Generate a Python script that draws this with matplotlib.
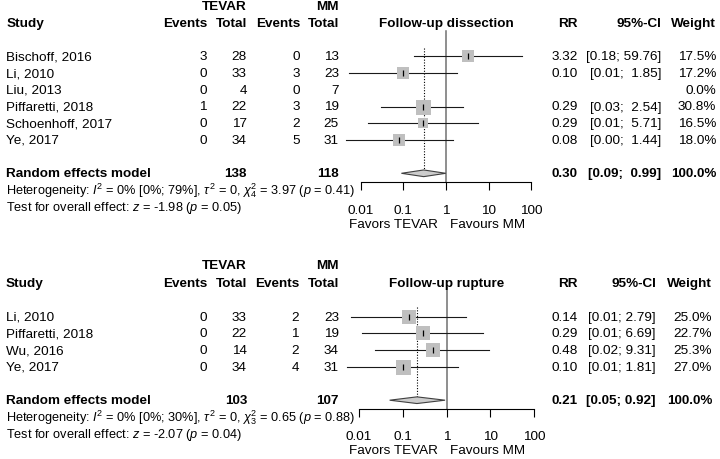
import matplotlib
matplotlib.use("Agg")
import matplotlib.pyplot as plt
import matplotlib.transforms as mtransforms
from matplotlib.patches import Polygon
import numpy as np

plt.rcParams['font.family'] = ['Liberation Sans', 'DejaVu Sans']
plt.rcParams['mathtext.fontset'] = 'custom'
plt.rcParams['mathtext.rm'] = 'Liberation Sans'
plt.rcParams['mathtext.it'] = 'Liberation Sans:italic'
plt.rcParams['mathtext.bf'] = 'Liberation Sans:bold'

# --- data: follow-up dissection ---
studies1 = ["Bischoff, 2016", "Li, 2010", "Liu, 2013", "Piffaretti, 2018",
            "Schoenhoff, 2017", "Ye, 2017"]
ev_tevar1 = [3, 0, 0, 1, 0, 0]
n_tevar1 = [28, 33, 4, 22, 17, 34]
ev_mm1 = [0, 3, 0, 3, 2, 5]
n_mm1 = [13, 23, 7, 19, 25, 31]
rr1 = [3.32, 0.10, np.nan, 0.29, 0.29, 0.08]
lo1 = [0.18, 0.0053, np.nan, 0.03, 0.0146, 0.0045]
hi1 = [59.76, 1.85, np.nan, 2.54, 5.71, 1.44]
w1 = [17.5, 17.2, 0.0, 30.8, 16.5, 18.0]
pooled1 = (0.30, 0.09, 0.99)
tot1 = (138, 118)
het1 = r"Heterogeneity: $I^2$ = 0% [0%; 79%], $\tau^2$ = 0, $\chi^2_4$ = 3.97 ($p$ = 0.41)"
test1 = r"Test for overall effect: $z$ = -1.98 ($p$ = 0.05)"

# --- data: follow-up rupture ---
studies2 = ["Li, 2010", "Piffaretti, 2018", "Wu, 2016", "Ye, 2017"]
ev_tevar2 = [0, 0, 0, 0]
n_tevar2 = [33, 22, 14, 34]
ev_mm2 = [2, 1, 2, 4]
n_mm2 = [23, 19, 34, 31]
rr2 = [0.14, 0.29, 0.48, 0.10]
lo2 = [0.0065, 0.0117, 0.023, 0.0053]
hi2 = [2.79, 6.69, 9.31, 1.81]
w2 = [25.0, 22.7, 25.3, 27.0]
pooled2 = (0.21, 0.05, 0.92)
tot2 = (103, 107)
het2 = r"Heterogeneity: $I^2$ = 0% [0%; 30%], $\tau^2$ = 0, $\chi^2_3$ = 0.65 ($p$ = 0.88)"
test2 = r"Test for overall effect: $z$ = -2.07 ($p$ = 0.04)"

ticks = [0.01, 0.1, 1, 10, 100]
ticklabels = ["0.01", "0.1", "1", "10", "100"]

W, H = 720, 460
FS = 9.7
FS_SMALL = 9.2
fig = plt.figure(figsize=(W / 100, H / 100), dpi=100)


def draw_panel(title, studies, ev_t, n_t, ev_m, n_m, rr, lo, hi, w, pooled, tots,
               het, test, row0, x0, x1, top_row, cols, head_rows, vline_top, dot_top):
    rowpx = 16.7
    k = len(studies)
    pool_row = k + 2
    bot_row = pool_row + 0.5
    ytop = row0 + top_row * rowpx
    ybot = row0 + bot_row * rowpx
    ax = fig.add_axes([x0 / W, 1 - ybot / H, (x1 - x0) / W, (ybot - ytop) / H])
    ax.set_xscale('log')
    ax.set_xlim(0.01, 100)
    ax.set_ylim(bot_row, top_row)
    ax.patch.set_visible(False)
    for s in ['top', 'left', 'right']:
        ax.spines[s].set_visible(False)
    ax.spines['bottom'].set_linewidth(0.8)
    ax.set_yticks([])
    ax.set_xticks(ticks)
    ax.set_xticklabels(ticklabels)
    ax.minorticks_off()
    ax.tick_params(axis='x', direction='out', length=5.8, width=0.8, pad=10,
                   labelsize=FS)

    rows = np.arange(1, k + 1)
    # reference line at 1 and pooled line
    ax.plot([1, 1], [vline_top, bot_row], color='#707070', lw=1.1, clip_on=False)
    ax.plot([pooled[0], pooled[0]], [dot_top, pool_row - 0.2], color='black',
            lw=0.8, ls=(0, (1, 1.5)), clip_on=False)

    wmax = max(w)
    for r, e, l, h, wt in zip(rows, rr, lo, hi, w):
        if np.isnan(e):
            continue
        ax.plot([l, h], [r, r], color='#1a1a1a', lw=0.8, clip_on=False, zorder=2)
        side = 15 * np.sqrt(wt / wmax) * 0.72
        ax.plot([e], [r], marker='s', ms=side, color='#bfbfbf', mew=0, zorder=3)
        ax.plot([e], [r], marker='|', ms=4, color='black', mew=0.9, zorder=4)

    dia = Polygon([(pooled[1], pool_row), (pooled[0], pool_row - 0.2),
                   (pooled[2], pool_row), (pooled[0], pool_row + 0.2)],
                  closed=True, facecolor='#cccccc', edgecolor='#404040', lw=0.8,
                  zorder=3, clip_on=False)
    ax.add_patch(dia)

    tr = mtransforms.blended_transform_factory(fig.transFigure, ax.transData)

    def txt(xpx, y, s, ha='right', weight='normal', size=FS):
        fig.text(xpx / W, y, s, transform=tr, ha=ha, va='center',
                 fontsize=size, fontweight=weight)

    # header
    tevar_row, study_row = head_rows
    txt(cols['study'], study_row, "Study", ha='left', weight='bold')
    txt(cols['n_t'], tevar_row, "TEVAR", weight='bold')
    txt(cols['n_m'], tevar_row, "MM", weight='bold')
    txt(cols['ev_t'], study_row, "Events", weight='bold')
    txt(cols['n_t'], study_row, "Total", weight='bold')
    txt(cols['ev_m'], study_row, "Events", weight='bold')
    txt(cols['n_m'], study_row, "Total", weight='bold')
    ax.text(1, study_row, title, ha='center', va='center', fontsize=FS,
            fontweight='bold')
    txt(cols['rr'], study_row, "RR", weight='bold')
    txt(cols['ci'], study_row, "95%-CI", weight='bold')
    txt(cols['w'], study_row, "Weight", weight='bold')

    wid = max(len(f"{v:.2f}") for v in list(hi) + [pooled[2]] if not np.isnan(v))
    for r, name, a, b, c, d, e, l, h, wt in zip(rows, studies, ev_t, n_t, ev_m, n_m,
                                                 rr, lo, hi, w):
        txt(cols['study'], r, name, ha='left')
        txt(cols['ev_t'], r, str(a))
        txt(cols['n_t'], r, str(b))
        txt(cols['ev_m'], r, str(c))
        txt(cols['n_m'], r, str(d))
        if not np.isnan(e):
            txt(cols['rr'], r, f"{e:.2f}")
            txt(cols['ci'], r, f"[{l:.2f}; {h:>{wid}.2f}]")
        txt(cols['w'], r, f"{wt:.1f}%")

    txt(cols['study'], pool_row, "Random effects model", ha='left', weight='bold')
    txt(cols['n_t'], pool_row, str(tots[0]), weight='bold')
    txt(cols['n_m'], pool_row, str(tots[1]), weight='bold')
    txt(cols['rr'], pool_row, f"{pooled[0]:.2f}", weight='bold')
    txt(cols['ci'], pool_row, f"[{pooled[1]:.2f}; {pooled[2]:>{wid}.2f}]", weight='bold')
    txt(cols['w'], pool_row, "100.0%", weight='bold')

    txt(cols['study'], pool_row + 1, het, ha='left', size=FS_SMALL)
    txt(cols['study'], pool_row + 2, test, ha='left', size=FS_SMALL)
    txt(cols['fav_l'], cols['fav_row'], "Favors TEVAR")
    txt(cols['fav_r'], cols['fav_row'], "Favours MM", ha='left')


cols1 = dict(study=6.5, ev_t=207, n_t=247, ev_m=300, n_m=339, rr=578, ci=661, w=716,
             fav_l=438, fav_r=450.5, fav_row=11.05)
draw_panel("Follow-up dissection", studies1, ev_tevar1, n_tevar1, ev_mm1, n_mm1,
           rr1, lo1, hi1, w1, pooled1, tot1, het1, test1,
           row0=40.7, x0=360.7, x1=531.3, top_row=-0.5, cols=cols1,
           head_rows=(-2.0, -1.0), vline_top=-0.5, dot_top=0.5)

cols2 = dict(study=5.5, ev_t=207, n_t=247, ev_m=299, n_m=339, rr=578, ci=656, w=712,
             fav_l=438, fav_r=450.5, fav_row=8.98)
draw_panel("Follow-up rupture", studies2, ev_tevar2, n_tevar2, ev_mm2, n_mm2,
           rr2, lo2, hi2, w2, pooled2, tot2, het2, test2,
           row0=301.0, x0=359.0, x1=534.3, top_row=-0.8, cols=cols2,
           head_rows=(-2.1, -1.02), vline_top=-0.8, dot_top=0.4)

fig.savefig("out.png", dpi=100, facecolor='white')
